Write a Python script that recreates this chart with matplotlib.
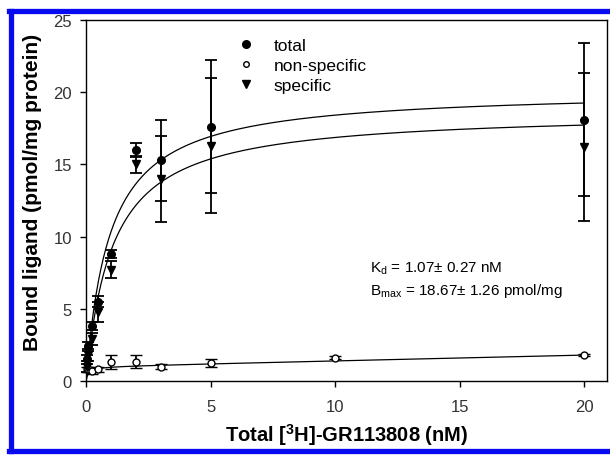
import matplotlib
matplotlib.use("Agg")
import matplotlib.pyplot as plt
import numpy as np
from matplotlib.lines import Line2D

plt.rcParams['font.family'] = ['Liberation Sans', 'DejaVu Sans']
plt.rcParams['mathtext.fontset'] = 'custom'
plt.rcParams['mathtext.rm'] = 'Liberation Sans'
plt.rcParams['mathtext.bf'] = 'Liberation Sans:bold'

# ---- data ----
conc = [0.05, 0.1, 0.25, 0.5, 1, 2, 3, 5, 20]
total = [1.5, 2.4, 3.8, 5.5, 8.8, 16.0, 15.3, 17.6, 18.1]
total_err = [0.3, 0.3, 0.3, 0.4, 0.3, 0.5, 2.8, 4.6, 5.3]
specific = [1.0, 1.8, 2.9, 4.8, 7.7, 15.0, 14.0, 16.3, 16.2]
specific_err = [0.4, 0.4, 0.4, 0.7, 0.6, 0.6, 3.0, 4.7, 5.1]
ns_conc = [0.05, 0.1, 0.25, 0.5, 1, 2, 3, 5, 10, 20]
nonspecific = [0.8, 0.8, 0.7, 0.8, 1.3, 1.35, 1.0, 1.25, 1.6, 1.8]
nonspecific_err = [0.2, 0.2, 0.2, 0.2, 0.5, 0.45, 0.15, 0.3, 0.1, 0.1]

# fitted parameters
Kd_spec, Bmax_spec = 1.07, 18.67
Kd_tot, Bmax_tot = 0.955, 20.17
ns_sat, ns_k, ns_slope = 1.0, 0.1, 0.04

xticks = [0, 5, 10, 15, 20]
yticks = [0, 5, 10, 15, 20, 25]

fig = plt.figure(figsize=(6.1, 4.6), dpi=100)
ax = fig.add_axes([86/610, 1-382/460, (607-86)/610, (382-21)/460])

xf = np.linspace(0.0, 20, 400)
ax.plot(xf, Bmax_tot*xf/(Kd_tot+xf), color='black', lw=0.9)
ax.plot(xf, Bmax_spec*xf/(Kd_spec+xf), color='black', lw=0.9)
ax.plot(xf, ns_sat*xf/(ns_k+xf) + ns_slope*xf, color='black', lw=0.9)

ekw = dict(ecolor='black', elinewidth=1.3, capsize=4.5, capthick=1.3, clip_on=False, zorder=3)
ax.errorbar(conc, total, yerr=total_err, fmt='o', color='black', ms=5.5, label='total', **ekw)
ax.errorbar(ns_conc, nonspecific, yerr=nonspecific_err, fmt='o', mfc='white', mec='black',
            mew=1.0, color='black', ms=5, label='non-specific', **ekw)
ax.errorbar(conc, specific, yerr=specific_err, fmt='v', color='black', ms=6, label='specific', **ekw)

ax.set_xlim(0, 20.92)
ax.set_ylim(0, 25)
ax.set_xticks(xticks)
ax.set_yticks(yticks)
ax.tick_params(direction='out', length=4, width=1, labelsize=12, labelcolor='#333333')
ax.tick_params(axis='x', pad=9)
ax.tick_params(axis='y', pad=6)
for s in ax.spines.values():
    s.set_linewidth(1.0)

ax.set_xlabel(r'Total [$^\mathbf{3}$H]-GR113808 (nM)', fontsize=14.5, fontweight='bold', labelpad=5)
ax.set_ylabel('Bound ligand (pmol/mg protein)', fontsize=15, fontweight='bold')
ax.yaxis.set_label_coords(-0.085, 0.525)

handles = [Line2D([], [], marker='o', ls='none', color='black', ms=5.5),
           Line2D([], [], marker='o', ls='none', mfc='white', mec='black', ms=4),
           Line2D([], [], marker='v', ls='none', color='black', ms=6)]
ax.legend(handles, ['total', 'non-specific', 'specific'], loc='upper left',
          bbox_to_anchor=(0.26, 0.995), frameon=False, fontsize=12.5,
          handletextpad=1.1, labelspacing=0.3, handlelength=1.0)

ax.text(0.545, 0.305, r'K$_\mathregular{d}$ = 1.07± 0.27 nM', transform=ax.transAxes, fontsize=11)
ax.text(0.545, 0.24, r'B$_\mathregular{max}$ = 18.67± 1.26 pmol/mg', transform=ax.transAxes, fontsize=11)

# blue frame
blue = '#0A0AF0'
fig.add_artist(Line2D([11/610, 11/610], [1-12/460, 1-452/460], color=blue, lw=3.8, transform=fig.transFigure))
fig.add_artist(Line2D([9/610, 1.0], [1-12/460, 1-12/460], color=blue, lw=3.8, transform=fig.transFigure))
fig.add_artist(Line2D([9/610, 1.0], [1-452/460, 1-452/460], color=blue, lw=3.8, transform=fig.transFigure))

fig.savefig('out.png', dpi=100)
